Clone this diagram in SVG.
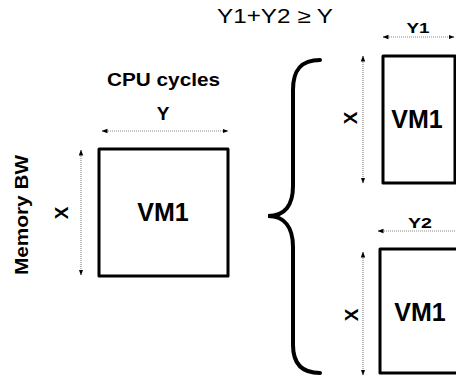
<svg xmlns="http://www.w3.org/2000/svg" width="456" height="377" viewBox="0 0 456 377">
<style>
.box{fill:#fff;stroke:#000;stroke-width:3;stroke-linejoin:round}
.dim{stroke:#8a8a8a;stroke-width:1.2;stroke-dasharray:1 1;fill:none}
.t{font-family:"Liberation Sans",Arial,sans-serif;font-weight:bold;fill:#000;text-anchor:middle}
</style>
<defs>
<marker id="ah" viewBox="0 0 6 6" refX="5.5" refY="3" markerWidth="6" markerHeight="6" markerUnits="userSpaceOnUse" orient="auto-start-reverse">
<path d="M0,0.8 L6,3 L0,5.2 Z" fill="#000"/>
</marker>
</defs>
<rect width="456" height="377" fill="#fff"/>
<text class="t" x="275" y="23" style="font-weight:normal;font-size:20px" textLength="116" lengthAdjust="spacingAndGlyphs">Y1+Y2 ≥ Y</text>
<text class="t" x="163.5" y="86" font-size="18" textLength="113" lengthAdjust="spacingAndGlyphs">CPU cycles</text>
<text class="t" transform="translate(28,215) rotate(-90)" font-size="18" textLength="120" lengthAdjust="spacingAndGlyphs">Memory BW</text>
<g id="connectors">
<line class="dim" x1="102" y1="131" x2="228" y2="131" marker-start="url(#ah)" marker-end="url(#ah)"/>
<line class="dim" x1="81" y1="150" x2="81" y2="275" marker-start="url(#ah)" marker-end="url(#ah)"/>
<line class="dim" x1="383" y1="37" x2="454" y2="37" marker-start="url(#ah)" marker-end="url(#ah)"/>
<line class="dim" x1="363" y1="56" x2="363" y2="183" marker-start="url(#ah)" marker-end="url(#ah)"/>
<line class="dim" x1="378" y1="231" x2="470" y2="231" marker-start="url(#ah)" marker-end="url(#ah)"/>
<line class="dim" x1="363" y1="252" x2="363" y2="375" marker-start="url(#ah)" marker-end="url(#ah)"/>
<path d="M320,60 C301,60 293,70 293,90 L293,186 C293,205 285,216 268,216 C285,216 293,228 293,247 L293,345 C293,363 301,373 320,373" fill="none" stroke="#000" stroke-width="4" stroke-linecap="round"/>
</g>
<text class="t" x="163" y="120" font-size="19">Y</text>
<text class="t" transform="translate(68,213) rotate(-90)" font-size="19">X</text>
<text class="t" x="418" y="33" font-size="14" textLength="23" lengthAdjust="spacingAndGlyphs">Y1</text>
<text class="t" transform="translate(357,118) rotate(-90)" font-size="19">X</text>
<text class="t" x="420" y="228" font-size="14" textLength="24" lengthAdjust="spacingAndGlyphs">Y2</text>
<text class="t" transform="translate(358,315) rotate(-90)" font-size="19">X</text>
<g id="vm1-main">
<rect class="box" x="99" y="149" width="129" height="127"/>
<text class="t" x="163" y="221" font-size="25">VM1</text>
</g>
<g id="vm1-top">
<rect class="box" x="383" y="56" width="72" height="127"/>
<text class="t" x="417" y="128" font-size="25">VM1</text>
</g>
<g id="vm1-bottom">
<rect class="box" x="380" y="249" width="90" height="124"/>
<text class="t" x="420" y="321" font-size="25">VM1</text>
</g>
</svg>
